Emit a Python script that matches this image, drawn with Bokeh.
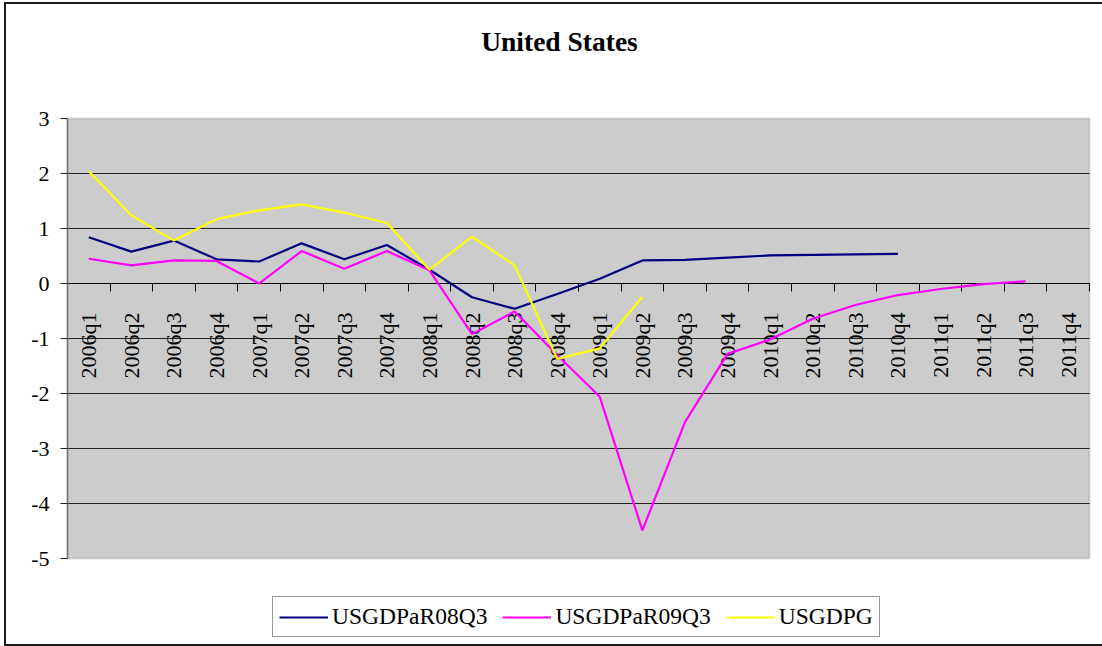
from math import pi
from bokeh.plotting import figure
from bokeh.models import (Range1d, FixedTicker, Legend, LegendItem, Label,
                          BoxAnnotation, ColumnDataSource)
from bokeh.embed import file_html
from bokeh.resources import INLINE

# ---------------- data ----------------
quarters = ["2006q1", "2006q2", "2006q3", "2006q4",
            "2007q1", "2007q2", "2007q3", "2007q4",
            "2008q1", "2008q2", "2008q3", "2008q4",
            "2009q1", "2009q2", "2009q3", "2009q4",
            "2010q1", "2010q2", "2010q3", "2010q4",
            "2011q1", "2011q2", "2011q3", "2011q4"]

usgdpar08q3 = [0.84, 0.58, 0.78, 0.44, 0.40, 0.73, 0.44, 0.70,
               0.25, -0.25, -0.46, -0.19, 0.085, 0.42, 0.43, 0.47,
               0.51, 0.52, 0.53, 0.54]
usgdpar09q3 = [0.45, 0.33, 0.42, 0.41, 0.00, 0.59, 0.27, 0.59,
               0.24, -0.92, -0.51, -1.30, -2.06, -4.49, -2.52, -1.28,
               -1.02, -0.64, -0.39, -0.21, -0.10, -0.01, 0.04]
usgdpg = [2.04, 1.24, 0.78, 1.17, 1.33, 1.44, 1.29, 1.10,
          0.25, 0.85, 0.33, -1.37, -1.18, -0.24]

series_names = ["USGDPaR08Q3", "USGDPaR09Q3", "USGDPG"]
series_colors = ["#000080", "#FF00FF", "#FFFF00"]
y_ticks = [-5, -4, -3, -2, -1, 0, 1, 2, 3]
title_text = "United States"

FONT = "Liberation Serif"

# ---------------- layout (pixels) ----------------
W, H = 1096, 640
PLOT_L, PLOT_R, PLOT_T, PLOT_B = 61, 1083, 114, 554

n = len(quarters)
x_lo, x_hi = -0.5, n - 0.5
y_lo, y_hi = y_ticks[0], y_ticks[-1]
ux = (PLOT_R - PLOT_L) / (x_hi - x_lo)
uy = (PLOT_B - PLOT_T) / (y_hi - y_lo)
x_range = Range1d(x_lo - PLOT_L / ux, x_hi + (W - PLOT_R) / ux)
y_range = Range1d(y_lo - (H - PLOT_B) / uy, y_hi + PLOT_T / uy)

p = figure(x_range=x_range, y_range=y_range, width=W, height=H,
           output_backend="svg", toolbar_location=None, min_border=0)
p.styles = {"margin-left": "6px", "margin-top": "4px",
            "outline": "2px solid #1a1a1a"}
p.background_fill_color = "white"
p.border_fill_color = "white"
p.outline_line_color = None

# grey plot area
plot_area = BoxAnnotation(left=x_lo, right=x_hi, bottom=y_lo, top=y_hi,
                          fill_color="#CCCCCC", fill_alpha=1,
                          line_color="#8C8C8C", line_width=2, level="image")
p.add_layout(plot_area)

# horizontal gridlines, limited to the plot area
p.xgrid.visible = False
p.ygrid.visible = False
grid_ticks = y_ticks[1:-1]
p.segment(x0=[x_lo] * len(grid_ticks), x1=[x_hi] * len(grid_ticks),
          y0=grid_ticks, y1=grid_ticks, line_color="#222222", line_width=1,
          level="underlay")

# y axis
ya = p.yaxis[0]
ya.fixed_location = x_lo
ya.bounds = (y_lo, y_hi)
ya.ticker = FixedTicker(ticks=y_ticks)
ya.major_label_overrides = {t: str(t) for t in y_ticks}
ya.major_tick_out = 7
ya.major_tick_in = 0
ya.minor_tick_line_color = None
ya.major_tick_line_color = "#222222"
ya.axis_line_color = "#777777"
ya.axis_line_width = 1.5
ya.major_label_standoff = 11
ya.major_label_text_font = FONT
ya.major_label_text_font_size = "22px"
ya.major_label_text_color = "black"

# category axis crossing at zero
xa = p.xaxis[0]
xa.fixed_location = 0
xa.bounds = (x_lo, x_hi)
xa.level = "underlay"
xa.ticker = FixedTicker(ticks=list(range(n)),
                        minor_ticks=[i - 0.5 for i in range(n + 1)])
xa.major_label_overrides = {i: q for i, q in enumerate(quarters)}
xa.major_label_orientation = pi / 2
xa.major_tick_line_color = None
xa.major_tick_out = 0
xa.major_tick_in = 0
xa.minor_tick_line_color = "black"
xa.minor_tick_out = 8
xa.minor_tick_in = 0
xa.axis_line_color = "black"
xa.axis_line_width = 1
xa.major_label_standoff = 21
xa.major_label_text_font = FONT
xa.major_label_text_font_size = "22px"
xa.major_label_text_color = "black"

# series
all_series = [usgdpar08q3, usgdpar09q3, usgdpg]
items = []
for name, color, vals in zip(series_names, series_colors, all_series):
    src = ColumnDataSource(dict(x=list(range(len(vals))), y=vals))
    r = p.line(x="x", y="y", source=src, line_color=color, line_width=2.2)
    items.append(LegendItem(label=name, renderers=[r]))

legend = Legend(items=items, orientation="horizontal", location=(266, 7))
legend.border_line_color = "#333333"
legend.border_line_width = 1.5
legend.background_fill_color = "white"
legend.background_fill_alpha = 1
legend.label_text_font = FONT
legend.label_text_font_size = "23.5px"
legend.label_text_color = "black"
legend.glyph_width = 49
legend.label_standoff = 4
legend.spacing = 15
legend.padding = 6
legend.margin = 0
p.add_layout(legend, "center")

title = Label(x=553, y=H - 37, x_units="screen", y_units="screen",
              text=title_text, text_align="center", text_baseline="alphabetic",
              text_font=FONT, text_font_size="27.5px", text_font_style="bold",
              text_color="black")
p.add_layout(title)

open("out.html", "w").write(file_html(p, INLINE))
